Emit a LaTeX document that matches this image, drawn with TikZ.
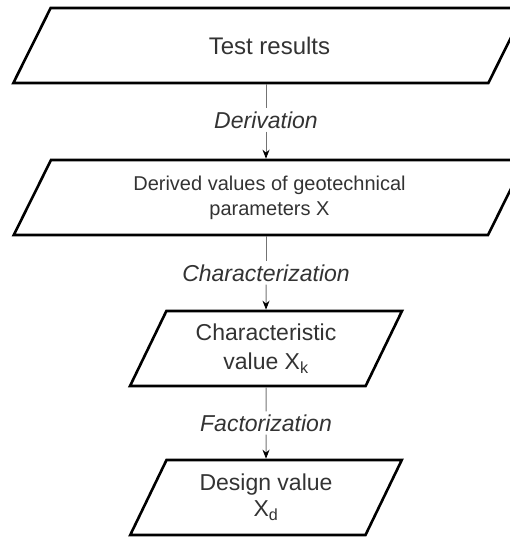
\documentclass[tikz,border=0pt]{standalone}
\usepackage{fontspec}
\setmainfont{Liberation Sans}
\usetikzlibrary{arrows.meta,positioning,shapes.geometric}

\begin{document}
\begin{tikzpicture}[x=1pt,y=-1pt,
  databox/.style={draw=black,line width=2.6pt,trapezium,trapezium left angle=63.7,
    trapezium right angle=116.3,trapezium stretches=true,minimum height=75pt,
    align=center,text=black!80,inner sep=2pt},
  steplabel/.style={font=\itshape\fontsize{23}{27}\selectfont,text=black!80,inner sep=3pt},
  link/.style={draw=black!55,line width=1pt},
  arr/.style={link,-{Stealth[length=9pt,width=7pt,black]}}]
\useasboundingbox (0,0) rectangle (510,540);
\clip (0,0) rectangle (510,540);
% data boxes
\node[databox,minimum width=513pt,font=\fontsize{24}{28}\selectfont] (test) at (269.5,45.5) {Test results};
\node[databox,minimum width=513pt,font=\fontsize{20}{25}\selectfont] (derived) at (269.5,197.5) {Derived values of geotechnical\\parameters X};
\node[databox,minimum width=272pt,font=\fontsize{23}{29}\selectfont] (charval) at (266,348.5) {Characteristic\\value X\textsubscript{k}};
\node[databox,minimum width=272pt,font=\fontsize{23}{26}\selectfont] (design) at (266,497.5) {Design value\\X\textsubscript{d}};
% step labels
\node[steplabel] (deriv) at (266,120) {Derivation};
\node[steplabel] (charz) at (266,273) {Characterization};
\node[steplabel] (factz) at (266,423) {Factorization};
% connectors
\draw[link] (deriv.north |- test.south) -- (deriv.north);
\draw[arr] (deriv.south) -- (deriv.south |- derived.north);
\draw[link] (charz.north |- derived.south) -- (charz.north);
\draw[arr] (charz.south) -- (charval.north);
\draw[link] (charval.south) -- (factz.north);
\draw[arr] (factz.south) -- (design.north);
\end{tikzpicture}
\end{document}
